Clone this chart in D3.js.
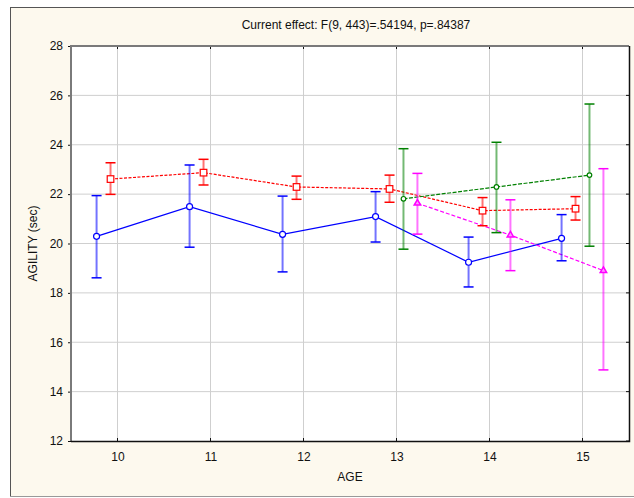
<!DOCTYPE html>
<html>
<head>
<meta charset="utf-8">
<script src="https://cdn.jsdelivr.net/npm/d3@7"></script>
<style>
  body { margin: 0; background: #fff; }
  svg { display: block; font-family: "Liberation Sans", Arial, sans-serif; }
</style>
</head>
<body>
<svg id="chart" width="634" height="498"></svg>
<script>
// ages on the x axis
var ages = [10, 11, 12, 13, 14, 15],
    lateAges = [13, 14, 15];

// blue group (circles, solid line)
var blueMean = [20.29, 21.49, 20.37, 21.09, 19.24, 20.21],
    blueLow  = [18.61, 19.85, 18.85, 20.06, 18.24, 19.30],
    blueHigh = [21.94, 23.18, 21.92, 22.10, 20.26, 21.17];

// red group (squares, dashed)
var redMean = [22.61, 22.87, 22.29, 22.21, 21.33, 21.41],
    redLow  = [21.99, 22.37, 21.79, 21.67, 20.72, 20.95],
    redHigh = [23.27, 23.41, 22.73, 22.77, 21.86, 21.90];

// green group, ages 13-15 only
var greenMean = [21.81, 22.29, 22.77],
    greenLow  = [19.77, 20.44, 19.89],
    greenHigh = [23.84, 24.10, 25.65];

// magenta group, ages 13-15 only
var magentaMean = [21.63, 20.34, 18.90],
    magentaLow  = [20.38, 18.90, 14.88],
    magentaHigh = [22.84, 21.77, 23.03];

var yTicks = [12, 14, 16, 18, 20, 22, 24, 26, 28];

var svg = d3.select("#chart");

//plot box edges (window.top is read only, so not "top")
var plotLeft = 71, plotRight = 629, plotTop = 46, plotBottom = 441;

var x = d3.scaleLinear().domain([9.5, 15.5]).range([plotLeft, plotRight]);
var y = d3.scaleLinear().domain([12, 28]).range([plotBottom, plotTop]);

//outer cream frame
svg.append("rect")
  .attr("x", 10.5).attr("y", 7.5)
  .attr("width", 640).attr("height", 489)
  .attr("fill", "#fdf9ee")
  .attr("stroke", "#555");
svg.append("line")
  .attr("x1", 10).attr("x2", 634).attr("y1", 496.5).attr("y2", 496.5)
  .attr("stroke", "#999");

//plot area
svg.append("rect")
  .attr("x", plotLeft).attr("y", plotTop)
  .attr("width", plotRight - plotLeft).attr("height", plotBottom - plotTop)
  .attr("fill", "#fff");

//grid lines
svg.append("g")
  .selectAll("line")
  .data(ages)
  .join("line")
  .attr("x1", d => x(d)).attr("x2", d => x(d))
  .attr("y1", plotTop).attr("y2", plotBottom)
  .attr("stroke", "#cfcfcf");

svg.append("g")
  .selectAll("line")
  .data(yTicks.slice(1, -1))
  .join("line")
  .attr("x1", plotLeft).attr("x2", plotRight)
  .attr("y1", d => y(d)).attr("y2", d => y(d))
  .attr("stroke", "#cfcfcf");

//axes
var xAxis = d3.axisBottom(x).tickValues(ages).tickFormat(d3.format("d")).tickSize(0).tickPadding(11);
svg.append("g")
  .attr("transform", "translate(0," + plotBottom + ")")
  .call(xAxis)
  .call(g => g.select(".domain").remove())
  .selectAll("text")
  .attr("font-size", 12).attr("fill", "#111").attr("font-family", "Liberation Sans, Arial, sans-serif");

var yAxis = d3.axisLeft(y).tickValues(yTicks).tickSize(3).tickPadding(5);
svg.append("g")
  .attr("transform", "translate(" + plotLeft + ",0)")
  .call(yAxis)
  .call(g => g.select(".domain").remove())
  .call(g => g.selectAll("line").attr("stroke", "#111"))
  .selectAll("text")
  .attr("font-size", 12).attr("fill", "#111").attr("font-family", "Liberation Sans, Arial, sans-serif");

//inner ticks on the other sides
var tickG = svg.append("g").attr("stroke", "#111");
ages.forEach(a => {
  tickG.append("line").attr("x1", x(a)).attr("x2", x(a)).attr("y1", plotTop).attr("y2", plotTop + 3);
  tickG.append("line").attr("x1", x(a)).attr("x2", x(a)).attr("y1", plotBottom).attr("y2", plotBottom - 3);
});
yTicks.forEach(t => {
  tickG.append("line").attr("x1", plotRight).attr("x2", plotRight - 3).attr("y1", y(t)).attr("y2", y(t));
});

//plot border: gray on left/top, black on right/bottom
svg.append("path")
  .attr("d", "M" + plotLeft + "," + plotBottom + "V" + plotTop + "H" + plotRight)
  .attr("fill", "none").attr("stroke", "#7a7a7a").attr("stroke-width", 2);
svg.append("path")
  .attr("d", "M" + plotLeft + "," + (plotBottom + 0.5) + "H" + (plotRight + 0.5) + "V" + plotTop)
  .attr("fill", "none").attr("stroke", "#111").attr("stroke-width", 1.5);

//titles
svg.append("text")
  .attr("x", 356).attr("y", 29)
  .attr("text-anchor", "middle")
  .attr("font-size", 12).attr("fill", "#111")
  .text("Current effect: F(9, 443)=.54194, p=.84387");

svg.append("text")
  .attr("x", 350).attr("y", 481)
  .attr("text-anchor", "middle")
  .attr("font-size", 12).attr("fill", "#111")
  .text("AGE");

svg.append("text")
  .attr("transform", "translate(37," + ((plotTop + plotBottom) / 2) + ") rotate(-90)")
  .attr("text-anchor", "middle")
  .attr("font-size", 12).attr("fill", "#111")
  .text("AGILITY (sec)");

//series
var series = [
  { ages: ages, mean: blueMean, low: blueLow, high: blueHigh, color: "#0000ff", shift: -0.225, dash: null, marker: "circle", size: 3 },
  { ages: ages, mean: redMean, low: redLow, high: redHigh, color: "#ff0000", shift: -0.075, dash: "3,1.5", marker: "square", size: 3.3 },
  { ages: lateAges, mean: greenMean, low: greenLow, high: greenHigh, color: "#008000", shift: 0.075, dash: "4,1.5", marker: "circle", size: 2.3 },
  { ages: lateAges, mean: magentaMean, low: magentaLow, high: magentaHigh, color: "#ff00ff", shift: 0.225, dash: "4,2", marker: "triangle", size: 3 }
];

var line = d3.line().x(d => d.px).y(d => d.py);

series.forEach(s => {
  var pts = s.ages.map((a, i) => ({
    px: x(a + s.shift), py: y(s.mean[i]), lo: y(s.low[i]), hi: y(s.high[i])
  }));
  s.pts = pts;

  svg.append("path")
    .datum(pts)
    .attr("d", line)
    .attr("fill", "none")
    .attr("stroke", s.color)
    .attr("stroke-width", 1.2)
    .attr("stroke-dasharray", s.dash);
});

series.forEach(s => {
  var g = svg.append("g").attr("stroke", s.color);
  g.selectAll(".stem")
    .data(s.pts)
    .join("line")
    .attr("x1", d => d.px).attr("x2", d => d.px)
    .attr("y1", d => d.lo).attr("y2", d => d.hi)
    .attr("stroke-width", 2)
    .attr("stroke-opacity", 0.55);
  g.selectAll(".capHi")
    .data(s.pts)
    .join("line")
    .attr("x1", d => d.px - 5).attr("x2", d => d.px + 5)
    .attr("y1", d => d.hi).attr("y2", d => d.hi)
    .attr("stroke-width", 1.5);
  g.selectAll(".capLo")
    .data(s.pts)
    .join("line")
    .attr("x1", d => d.px - 5).attr("x2", d => d.px + 5)
    .attr("y1", d => d.lo).attr("y2", d => d.lo)
    .attr("stroke-width", 1.5);
});

series.forEach(s => {
  var g = svg.append("g")
    .attr("stroke", s.color)
    .attr("stroke-width", 1.2)
    .attr("fill", "#fff");
  if (s.marker == "circle") {
    g.selectAll("circle")
      .data(s.pts)
      .join("circle")
      .attr("cx", d => d.px).attr("cy", d => d.py)
      .attr("r", s.size);
  } else if (s.marker == "square") {
    g.selectAll("rect")
      .data(s.pts)
      .join("rect")
      .attr("x", d => d.px - s.size).attr("y", d => d.py - s.size)
      .attr("width", s.size * 2).attr("height", s.size * 2);
  } else {
    var tri = d3.symbol().type(d3.symbolTriangle).size(18);
    g.selectAll("path")
      .data(s.pts)
      .join("path")
      .attr("d", tri)
      .attr("fill", "#ff99ff")
      .attr("stroke-width", 1.5)
      .attr("transform", d => "translate(" + d.px + "," + d.py + ")");
  }
});
</script>
</body>
</html>
